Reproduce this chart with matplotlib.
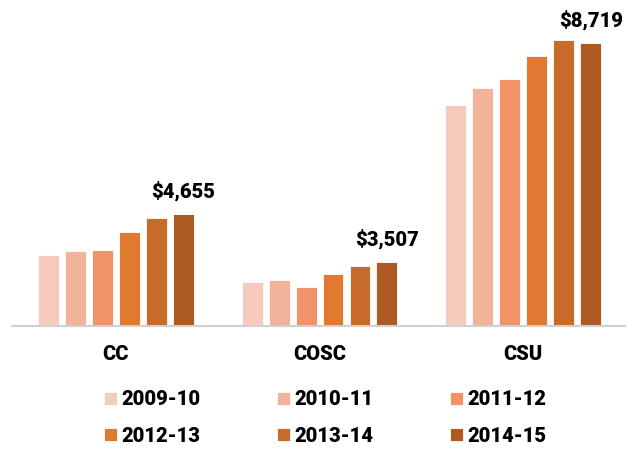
import matplotlib
matplotlib.use("Agg")
import matplotlib.pyplot as plt
import numpy as np

# Dados (custo anual, US$)
grupos = ["CC", "COSC", "CSU"]
anos = ["2009-10", "2010-11", "2011-12", "2012-13", "2013-14", "2014-15"]
cc = [3678, 3766, 3805, 4226, 4559, 4655]
cosc = [3043, 3083, 2916, 3219, 3424, 3507]
csu = [7243, 7662, 7869, 8417, 8798, 8719]

_CORES = ["#f6cbbe", "#f2b39b", "#f09369", "#e07a31", "#c86a29", "#ad5a22"]
FONTE = ["Roboto", "DejaVu Sans"]

plt.rcParams["font.family"] = FONTE

valores = np.array([cc, cosc, csu])
x = np.arange(len(grupos))
largura = 0.103
passo = 0.1325

fig = plt.figure(figsize=(6.37, 4.49), dpi=100)
ax = fig.add_axes([12 / 637, 1 - 325.7 / 449, 613 / 637, 325.7 / 449])

barras = []
for k, ano in enumerate(anos):
    b = ax.bar(x + (k - 2.5) * passo, valores[:, k], largura, color=_CORES[k],
               edgecolor="white", linewidth=0.6, label=ano, zorder=2)
    barras.append(b)

# rótulo só no último ano
for i in range(len(grupos)):
    v = valores[i, -1]
    ax.annotate(f"${v:,.0f}", (x[i] + 2.5 * passo, v), xytext=(0, 12),
                textcoords="offset points", ha="center", va="baseline",
                fontsize=14.5, fontweight="black")

ax.set_xlim(-0.51, 2.5)
ax.set_ylim(1995, 9750)
ax.set_yticks([])
ax.set_xticks([])
for lado in ["top", "right", "left"]:
    ax.spines[lado].set_visible(False)
ax.spines["bottom"].set_color("#d0d0d0")
ax.spines["bottom"].set_linewidth(1.5)

for i, g in enumerate(grupos):
    ax.text(x[i], -29 / 325.7, g, transform=ax.get_xaxis_transform(),
            ha="center", va="center", fontsize=14.5, fontweight="black")

# legenda em 2 linhas x 3 colunas (ordem por linha)
ordem = [0, 3, 1, 4, 2, 5]
handles = [barras[i] for i in ordem]
rotulos = [anos[i] for i in ordem]
fig.legend(handles, rotulos, ncol=3, loc="center left",
           bbox_to_anchor=(94 / 637, 1 - 418 / 449), frameon=False,
           prop={"size": 14.5, "weight": "black"},
           handlelength=0.62, handleheight=0.62, handletextpad=0.25,
           columnspacing=3.8, labelspacing=0.85, borderpad=0)

fig.savefig("out.png", dpi=100)
